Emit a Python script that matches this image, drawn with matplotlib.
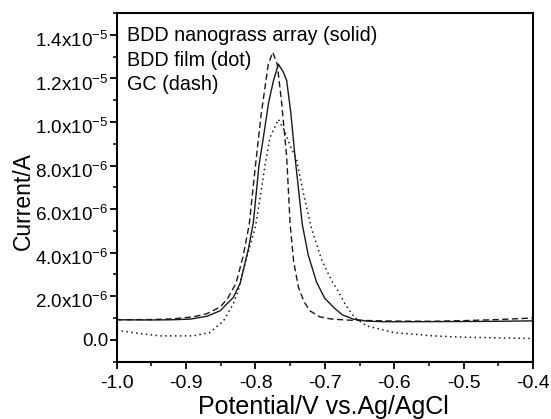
import matplotlib
matplotlib.use("Agg")
import matplotlib.pyplot as plt
import matplotlib.transforms as mtransforms
from matplotlib.ticker import MultipleLocator, FuncFormatter
import numpy as np

plt.rcParams["font.family"] = ["Liberation Sans", "DejaVu Sans"]
plt.rcParams["mathtext.fontset"] = "custom"
plt.rcParams["mathtext.rm"] = "Liberation Sans"
plt.rcParams["mathtext.it"] = "Liberation Sans:italic"

# BDD nanograss array (solid), current in units of 1e-6 A
nano_v = [-1.0, -0.95, -0.92, -0.894, -0.87, -0.851, -0.832, -0.822, -0.81, -0.803,
          -0.795, -0.789, -0.781, -0.774, -0.767, -0.760, -0.755, -0.749, -0.743,
          -0.7325, -0.724, -0.712, -0.70, -0.686, -0.675, -0.659, -0.64, -0.616,
          -0.58, -0.5, -0.45, -0.4]
nano_i = [0.92, 0.91, 0.92, 0.95, 1.08, 1.33, 1.94, 2.6, 4.2, 5.4,
          8.0, 9.2, 10.9, 11.9, 12.65, 12.3, 11.9, 10.4, 8.4,
          5.3, 3.9, 2.65, 1.9, 1.45, 1.15, 0.95, 0.86, 0.83,
          0.83, 0.84, 0.85, 0.87]

# BDD film (dot)
film_v = [-1.0, -0.97, -0.938, -0.89, -0.866, -0.846, -0.832, -0.825, -0.815, -0.80,
          -0.79, -0.786, -0.779, -0.767, -0.758, -0.750, -0.741, -0.730, -0.72,
          -0.705, -0.69, -0.681, -0.67, -0.657, -0.64, -0.60, -0.544, -0.5, -0.4]
film_i = [0.44, 0.3, 0.18, 0.18, 0.33, 0.87, 1.65, 2.25, 3.5, 5.2,
          7.2, 8.06, 9.28, 10.12, 9.6, 8.9, 8.3, 6.6, 5.2,
          3.7, 2.7, 2.25, 1.6, 1.02, 0.64, 0.33, 0.18, 0.12, 0.06]

# GC (dash)
gc_v = [-1.0, -0.95, -0.92, -0.89, -0.87, -0.851, -0.84, -0.828, -0.818, -0.809,
        -0.80, -0.792, -0.7815, -0.775, -0.7686, -0.762, -0.755, -0.750, -0.745,
        -0.738, -0.73, -0.7215, -0.707, -0.69, -0.664, -0.60, -0.544, -0.5, -0.45, -0.4]
gc_i = [0.92, 0.93, 0.96, 1.05, 1.2, 1.5, 1.9, 2.6, 3.8, 5.3,
        8.0, 10.3, 12.65, 13.2, 12.65, 10.8, 8.4, 5.3, 3.6,
        2.4, 1.75, 1.33, 1.05, 0.95, 0.9, 0.86, 0.85, 0.88, 0.93, 1.0]

labels = ["BDD nanograss array (solid)", "BDD film (dot)", "GC (dash)"]

fig = plt.figure(figsize=(5.51, 4.19), dpi=100)
ax = fig.add_axes([0.2118, 0.137, 0.7555, 0.832])

col = "#1a1a1a"
ax.plot(nano_v, np.array(nano_i) * 1e-6, color=col, lw=1.0, ls="-")
ax.plot(film_v, np.array(film_i) * 1e-6, color=col, lw=1.1, ls=(0, (1, 2.2)))
ax.plot(gc_v, np.array(gc_i) * 1e-6, color=col, lw=1.0, ls=(0, (4.5, 2.5)))

ax.set_xlim(-1.0, -0.4)
ax.set_ylim(-1e-6, 1.5e-5)
ax.xaxis.set_major_locator(MultipleLocator(0.1))
ax.xaxis.set_minor_locator(MultipleLocator(0.05))
ax.yaxis.set_major_locator(MultipleLocator(2e-6))
ax.yaxis.set_minor_locator(MultipleLocator(1e-6))


def yfmt(v, pos):
    if abs(v) < 1e-12:
        return "0.0"
    e = int(np.floor(np.log10(abs(v))))
    m = v / 10 ** e
    return r"%.1fx10$^{%d}$" % (m, e)


ax.yaxis.set_major_formatter(FuncFormatter(yfmt))
ax.xaxis.set_major_formatter(FuncFormatter(lambda v, p: "%.1f" % v))

for s in ax.spines.values():
    s.set_linewidth(1.5)
ax.tick_params(which="major", direction="out", length=5, width=1.3, labelsize=13.6, pad=1)
ax.tick_params(axis="x", which="major", labelsize=14, pad=5)
ax.tick_params(which="minor", direction="out", length=3, width=1.1)

# exponent labels sit a bit below their ticks, as in the original
fig.canvas.draw()
shift = mtransforms.ScaledTranslation(0, -3 / 72, fig.dpi_scale_trans)
for lab in ax.get_yticklabels():
    if lab.get_text() != "0.0":
        lab.set_transform(lab.get_transform() + shift)

ax.set_ylabel("Current/A", fontsize=16.5)
ax.yaxis.set_label_coords(-0.196, 0.461)
fig.text(0.587, 0.0, "Potential/V vs.Ag/AgCl", fontsize=18, ha="center", va="bottom")

for k, t in enumerate(labels):
    ax.text(0.025, 0.935 - k * 0.0705, t, transform=ax.transAxes,
            fontsize=14.2, va="center", ha="left")

fig.savefig("out.png", dpi=100)
